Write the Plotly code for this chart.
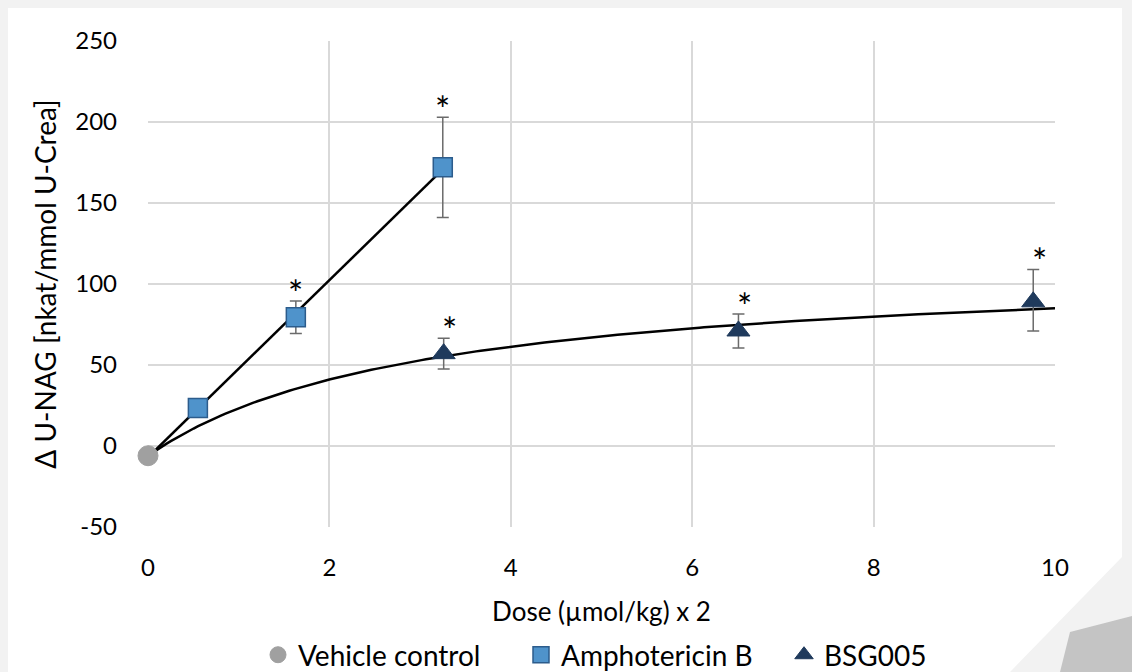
import numpy as np
import plotly.graph_objects as go

# ---- data ----
veh_x = [0.0]
veh_y = [-6.0]

amph_x = [0.55, 1.63, 3.25]
amph_y = [23.5, 79.5, 172.0]
amph_err_plus = [0.0, 10.0, 31.0]
amph_err_minus = [0.0, 10.0, 31.0]
amph_sig = ["", "*", "*"]

bsg_x = [3.26, 6.51, 9.76]
bsg_y = [57.0, 71.0, 89.0]
bsg_err_plus = [9.5, 10.5, 20.0]
bsg_err_minus = [9.5, 10.5, 18.0]
bsg_sig = ["*", "*", "*"]

# saturation trend-line parameters for BSG005
bsg_fit_vmax = 118.7
bsg_fit_k = 3.05

x_ticks = [0, 2, 4, 6, 8, 10]
y_ticks = [-50, 0, 50, 100, 150, 200, 250]

FONT = "Lato"
AMPH_FILL = "#4f93cb"
AMPH_LINE = "#2c5c8c"
BSG_FILL = "#1f3a5c"
VEH_FILL = "#a0a0a0"
ERR_COL = "#6b6b6b"

fig = go.Figure()

# trend line: Amphotericin B linear fit (including vehicle point)
ax_all = np.array(veh_x + amph_x)
ay_all = np.array(veh_y + amph_y)
slope, icpt = np.polyfit(ax_all, ay_all, 1)
lx = np.array([0.0, max(amph_x)])
fig.add_trace(go.Scatter(x=lx, y=slope * lx + icpt, mode="lines",
                         line=dict(color="black", width=2.5),
                         showlegend=False, hoverinfo="skip"))

# trend line: BSG005 saturation curve starting at vehicle level
cx = np.linspace(0, 10, 200)
cy = veh_y[0] + bsg_fit_vmax * cx / (bsg_fit_k + cx)
fig.add_trace(go.Scatter(x=cx, y=cy, mode="lines",
                         line=dict(color="black", width=2.5),
                         showlegend=False, hoverinfo="skip"))

fig.add_trace(go.Scatter(
    x=veh_x, y=veh_y, mode="markers", name="Vehicle control", cliponaxis=False,
    marker=dict(symbol="circle", size=20, color=VEH_FILL,
                line=dict(color=VEH_FILL, width=1))))

fig.add_trace(go.Scatter(
    x=amph_x, y=amph_y, mode="markers", name="Amphotericin B", cliponaxis=False,
    marker=dict(symbol="square", size=19, color=AMPH_FILL,
                line=dict(color=AMPH_LINE, width=1.5)),
    error_y=dict(type="data", symmetric=False, array=amph_err_plus,
                 arrayminus=amph_err_minus, color=ERR_COL,
                 thickness=1.5, width=6)))

fig.add_trace(go.Scatter(
    x=bsg_x, y=bsg_y, mode="markers", name="BSG005", cliponaxis=False,
    marker=dict(symbol="triangle-up", size=20, color=BSG_FILL,
                line=dict(color=BSG_FILL, width=1)),
    error_y=dict(type="data", symmetric=False, array=bsg_err_plus,
                 arrayminus=bsg_err_minus, color=ERR_COL,
                 thickness=1.5, width=6)))

# significance asterisks above the error bars
for xs, ys, ep, sig, xsh in [(amph_x, amph_y, amph_err_plus, amph_sig, 0),
                             (bsg_x, bsg_y, bsg_err_plus, bsg_sig, 6)]:
    for xv, yv, e, s in zip(xs, ys, ep, sig):
        if s:
            fig.add_annotation(x=xv, y=yv + e, text=s, showarrow=False,
                               xanchor="center", yanchor="bottom",
                               yshift=-16, xshift=xsh,
                               font=dict(family=FONT, size=36, color="black"))

# background: light gray page with white panel and folded corner
L, R, T, B = 148, 1055, 41, 527
W, H = 1132, 672


def px(x):
    return (x - L) / (R - L)


def py(y):
    return (B - y) / (B - T)


def path(points):
    return "M " + " L ".join(f"{px(a):.5f},{py(b):.5f}" for a, b in points) + " Z"


fig.add_shape(type="path", xref="paper", yref="paper", layer="below",
              path=path([(8, 8), (1122, 8), (1122, 557), (1010, 672), (8, 672)]),
              fillcolor="white", line=dict(width=0))
fig.add_shape(type="path", xref="paper", yref="paper", layer="below",
              path=path([(1070, 632), (1132, 616), (1132, 672), (1060, 672)]),
              fillcolor="#c4c4c4", line=dict(width=0))

grid = "#d9d9d9"
fig.update_xaxes(range=[0, 10], tickvals=x_ticks, ticktext=[str(v) for v in x_ticks],
                 showgrid=True, gridcolor=grid,
                 gridwidth=1.5, zeroline=False, showline=False,
                 ticklabelstandoff=24,
                 tickfont=dict(family=FONT, size=24, color="black"),
                 title=dict(text="Dose (µmol/kg) x 2", standoff=22,
                            font=dict(family=FONT, size=26, color="black")))
fig.update_yaxes(range=[-50, 250], tickvals=y_ticks, ticktext=[str(v) for v in y_ticks],
                 showgrid=True, gridcolor=grid,
                 gridwidth=1.5, zeroline=False, showline=False,
                 ticklabelstandoff=30,
                 tickfont=dict(family=FONT, size=24, color="black"),
                 title=dict(text="Δ U-NAG [nkat/mmol U-Crea]", standoff=10,
                            font=dict(family=FONT, size=28, color="black")))

fig.update_layout(
    width=W, height=H,
    margin=dict(l=L, r=W - R, t=T, b=H - B, autoexpand=False),
    paper_bgcolor="#f2f2f2", plot_bgcolor="rgba(0,0,0,0)",
    font=dict(family=FONT, color="black"),
    showlegend=True,
    legend=dict(orientation="h", x=px(258), xanchor="left", y=-0.212,
                yanchor="top", font=dict(family=FONT, size=28, color="black"),
                itemsizing="trace", entrywidth=218, entrywidthmode="pixels",
                bgcolor="rgba(0,0,0,0)"),
)

fig.write_html("out.html", config={"displayModeBar": False},
               post_script="document.body.style.margin='0';"
                           "document.body.style.background='#f2f2f2';")
